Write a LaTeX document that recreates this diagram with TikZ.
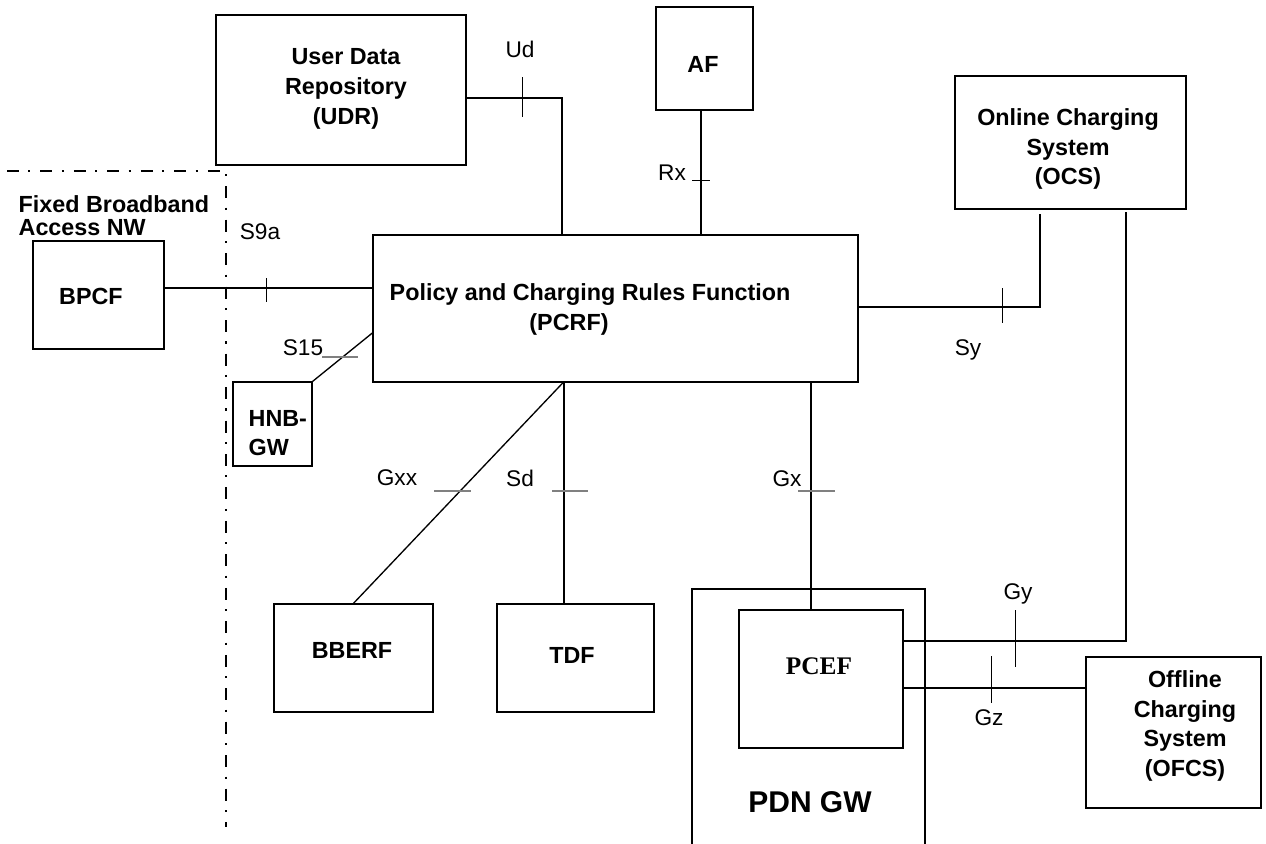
\documentclass[tikz,border=0pt]{standalone}
\usepackage{fontspec}
\setmainfont{Liberation Sans}
\newfontfamily\pcefserif{Liberation Serif}

\tikzset{every picture/.style={line width=1pt}}
\tikzset{
	box/.style={draw, rectangle, inner sep=0pt},
	sz/.style 2 args={minimum width=#1*0.75pt, minimum height=#2*0.75pt},
	boxtxt/.style={inner sep=0.75pt, align=center, font=\fontsize{17.5}{22.3}\selectfont\bfseries},
	iflbl/.style={inner sep=0.75pt, font=\fontsize{17}{20}\selectfont},
	tickmark/.style={line width=0.75pt},
	graytick/.style={draw={rgb, 255:red, 128; green, 128; blue, 128}, line width=0.9pt},
	border/.style={line width=2.2pt, dash pattern=on 9pt off 7pt on 1.6pt off 7.5pt}}

\begin{document}
\begin{tikzpicture}[x=0.75pt,y=0.75pt,yscale=-1,xscale=1]
	\path [use as bounding box] (0,0) rectangle (1266,843);
	
	% Boxes
	\node [box, sz={250}{150}] (udr) at (341,90) {};
	\node [box, sz={97}{103}] (af) at (704.5,58.5) {};
	\node [box, sz={231}{133}] (ocs) at (1070.5,142.5) {};
	\node [box, sz={131}{108}] (bpcf) at (98.5,295) {};
	\node [box, sz={485}{147}] (pcrf) at (615.5,308.5) {};
	\node [box, sz={79}{84}] (hnbgw) at (272.5,424) {};
	\node [box, sz={159}{108}] (bberf) at (353.5,658) {};
	\node [box, sz={157}{108}] (tdf) at (575.5,658) {};
	\begin{scope}
		\clip (0,0) rectangle (1266,843);
		\node [box, sz={233}{271}] (pdngw) at (808.5,724.5) {};
	\end{scope}
	\node [box, sz={164}{138}] (pcef) at (821,679) {};
	\node [box, sz={175}{151}] (ofcs) at (1173.5,732.5) {};
	
	% Box texts
	\node [boxtxt] (udr-t) at (346,89) {User Data\\Repository\\(UDR)};
	\node [boxtxt] (af-t) at (703,64) {AF};
	\node [boxtxt] (ocs-t) at (1068,149) {Online Charging\\System\\(OCS)};
	\node [boxtxt] (bpcf-t) at (91,296) {BPCF};
	\node [boxtxt] (pcrf-t) at (590,295) {Policy and Charging Rules Function};
	\node [boxtxt] (pcrf-t2) at (569,324) {(PCRF)};
	\node [boxtxt, anchor=west, align=left] (hnbgw-t) at (247,433) {HNB-\\GW};
	\node [boxtxt] (bberf-t) at (352,650) {BBERF};
	\node [boxtxt] (tdf-t) at (572,655) {TDF};
	\node [boxtxt, font=\pcefserif\fontsize{19}{22}\selectfont\bfseries] (pcef-t) at (819,666) {PCEF};
	\node [boxtxt, font=\fontsize{22.5}{26}\selectfont\bfseries] (pdngw-t) at (810,802) {PDN GW};
	\node [boxtxt] (ofcs-t) at (1185,726) {Offline\\Charging\\System\\(OFCS)};
	\node [boxtxt, anchor=west, align=left, font=\fontsize{17.5}{17.25}\selectfont\bfseries] (fbb-t) at (17,215.5) {Fixed Broadband\\Access NW};
	
	% Access network border
	\coordinate (fbb-corner) at (226,171);
	\draw [border] (7,171) -- (fbb-corner) -- (226,827);
	
	% Reference points
	\draw (udr.east |- 0,98) -| (pcrf.north -| 562,0);
	\draw (af.south -| 701,0) -- (pcrf.north -| 701,0);
	\draw [shorten >=3pt] (pcrf.east |- 0,307) -| (ocs.south -| 1040,0);
	\draw (bpcf.east |- 0,288) -- (pcrf.west |- 0,288);
	\draw (pcrf.west |- 0,333) -- (hnbgw.north east);
	\draw (pcrf.south -| 563,0) -- (bberf.north);
	\draw (pcrf.south -| 564,0) -- (tdf.north -| 564,0);
	\draw (pcrf.south -| 811,0) -- (pcef.north -| 811,0);
	\draw [shorten >=2pt] (pcef.east |- 0,641) -| (ocs.south -| 1126,0);
	\draw (pcef.east |- 0,688) -- (ofcs.west |- 0,688);
	
	% Ticks
	\draw [tickmark] (522,77) -- (522,117);
	\draw [tickmark] (692,180) -- (710,180);
	\draw [tickmark] (1002,288) -- (1002,323);
	\draw [tickmark] (266,278) -- (266,302);
	\draw [graytick] (322,357) -- (358,357);
	\draw [graytick] (434,491) -- (471,491);
	\draw [graytick] (552,491) -- (588,491);
	\draw [graytick] (798,491) -- (835,491);
	\draw [tickmark] (1015,610) -- (1015,667);
	\draw [tickmark] (991,656) -- (991,703);
	
	% Interface labels
	\node [iflbl] (ud) at (520,49) {Ud};
	\node [iflbl] (rx) at (672,173) {Rx};
	\node [iflbl] (s9a) at (260,232) {S9a};
	\node [iflbl] (s15) at (303,348) {S15};
	\node [iflbl] (sy) at (968,350) {Sy};
	\node [iflbl] (gxx) at (397,478) {Gxx};
	\node [iflbl] (sd) at (520,478) {Sd};
	\node [iflbl] (gx) at (787,479) {Gx};
	\node [iflbl] (gy) at (1018,594) {Gy};
	\node [iflbl] (gz) at (989,718) {Gz};
	
\end{tikzpicture}
\end{document}
